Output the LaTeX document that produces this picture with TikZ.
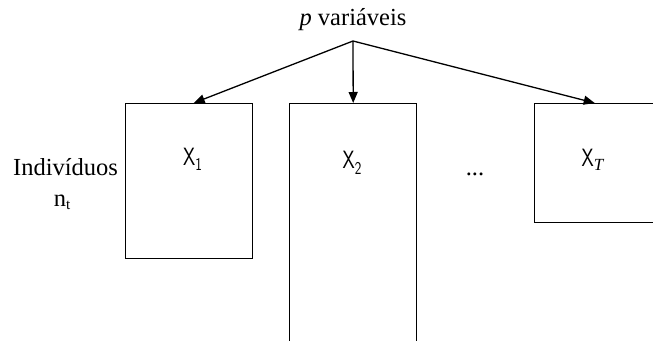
\documentclass[tikz,border=0pt]{standalone}
\usepackage{fontspec}
\setmainfont{Liberation Serif}
\usetikzlibrary{arrows.meta}
\tikzset{
  box/.style={draw, line width=1.4pt, inner sep=0pt},
  arr/.style={line width=1.3pt, -{Triangle[length=11pt,width=9pt]}},
  lab/.style={font=\fontsize{24.5}{28}\selectfont, inner sep=0pt, anchor=base},
  xlab/.style={font=\sffamily\fontsize{25}{27}\selectfont, inner sep=0pt, anchor=base}
}
\newcommand{\narrow}[1]{\scalebox{0.78}[1]{#1}}
\begin{document}
\begin{tikzpicture}[x=1pt,y=-1pt]
\clip (0,0) rectangle (653,340);
\fill[white] (0,0) rectangle (653,340);
% boxes
\node[box, minimum width=127pt, minimum height=155pt, anchor=north west] (b1) at (125,103) {};
\node[box, minimum width=127pt, minimum height=238pt, anchor=north west] (b2) at (289,103) {};
\node[box, minimum width=120pt, minimum height=119pt, anchor=north west] (bT) at (534,103) {};
% labels
\node[lab] (top) at (353,25) {\textit{p} variáveis};
\coordinate (apex) at (353,41);
\node[xlab] (x1) at (192.5,165) {\narrow{X}\raisebox{-5pt}{\fontsize{18}{20}\selectfont\narrow{1}}};
\node[xlab] (x2) at (352,168) {\narrow{X}\raisebox{-6pt}{\fontsize{18}{20}\selectfont\narrow{2}}};
\node[xlab] (xT) at (593,166) {\narrow{X}\raisebox{-4pt}{\rmfamily\fontsize{17}{18}\selectfont\textit{T}}};
\node[lab] (dots) at (475,175) {...};
\node[lab] (ind) at (65.5,175) {Indivíduos};
\node[lab] (nt) at (62,206) {n\raisebox{-3pt}{\fontsize{15}{16}\selectfont t}};
% arrows
\draw[arr] (apex) -- ([xshift=4.5pt]b1.north);
\draw[arr] (apex) -- (b2.north);
\draw[arr] (apex) -- (bT.north);
\end{tikzpicture}
\end{document}
